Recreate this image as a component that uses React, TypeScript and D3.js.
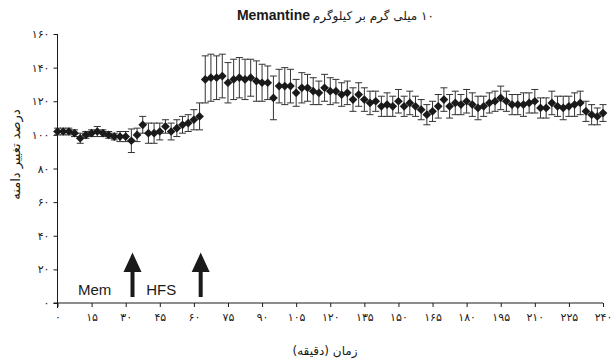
import React, { useEffect, useRef } from "react";
import * as d3 from "d3";

// minutes
const times = [
  0, 2.5, 5, 7.5, 10, 12.5, 15, 17.5, 20, 22.5, 25, 27.5, 30,
  32.5, 35, 37.5, 40, 42.5, 45, 47.5, 50, 52.5, 55, 57.5, 60, 62.5,
  65, 67.5, 70, 72.5, 75, 77.5, 80, 82.5, 85, 87.5, 90, 92.5, 95, 97.5,
  100, 102.5, 105, 107.5, 110, 112.5, 115, 117.5, 120, 122.5, 125, 127.5,
  130, 132.5, 135, 137.5, 140, 142.5, 145, 147.5, 150, 152.5, 155, 157.5,
  160, 162.5, 165, 167.5, 170, 172.5, 175, 177.5, 180, 182.5, 185, 187.5,
  190, 192.5, 195, 197.5, 200, 202.5, 205, 207.5, 210, 212.5, 215, 217.5,
  220, 222.5, 225, 227.5, 230, 232.5, 235, 237.5, 240,
];

// % change of amplitude
const values = [
  102, 102, 102, 101, 98, 100, 101, 102, 101, 100, 99, 99, 99,
  96.5, 100, 106, 101, 101, 102, 105, 102, 104, 106, 107, 109, 111,
  133, 134, 134, 135, 131, 133, 134, 133, 134, 132, 131, 131, 122, 129,
  129, 129, 125, 128, 128, 126, 125, 128, 126, 126, 124, 125,
  121, 124, 121, 119, 120, 117, 118, 117, 120, 117, 119, 117,
  115, 112, 114, 117, 121, 117, 119, 118, 120, 118, 116, 117,
  119, 120, 122, 120, 118, 118, 118, 119, 120, 116, 116, 119,
  117, 116, 117, 118, 119, 114, 112, 111, 113,
];

const errors = [
  2, 2, 2, 2, 3, 2, 2, 3, 2, 2, 2, 3, 3,
  7, 4, 5, 6, 6, 5, 4, 5, 5, 5, 5, 6, 8,
  14, 14, 13, 13, 12, 12, 12, 12, 11, 12, 11, 10, 13, 10,
  11, 10, 8, 9, 8, 8, 7, 8, 8, 7, 7, 7,
  7, 7, 7, 7, 6, 6, 7, 6, 7, 6, 7, 6,
  6, 6, 6, 7, 7, 7, 7, 6, 7, 7, 7, 6,
  6, 6, 7, 6, 6, 6, 7, 6, 7, 6, 6, 7,
  6, 7, 6, 7, 7, 6, 6, 5, 5,
];

const xTicks = [0, 15, 30, 45, 60, 75, 90, 105, 120, 135, 150, 165, 180, 195, 210, 225, 240];
const yTicks = [0, 20, 40, 60, 80, 100, 120, 140, 160];

// events: drug injection and HFS
const arrowTimes = [33, 63];
const eventLabels = [
  { text: "Mem", t: 9 },
  { text: "HFS", t: 39 },
];

const faDigits = (n: number) =>
  String(n).replace(/\d/g, (d) => "۰۱۲۳۴۵۶۷۸۹"[+d]);

const App: React.FC = () => {
  const svgRef = useRef<SVGSVGElement | null>(null);
  const width = 611;
  const height = 360;

  useEffect(() => {
    const svg = d3.select(svgRef.current);
    svg.selectAll("*").remove();

    const x = d3.scaleLinear().domain([0, 240]).range([57.5, 603]);
    const y = d3.scaleLinear().domain([0, 160]).range([303, 34]);
    const ink = "#1a1a1a";
    const faFont = "'DejaVu Sans', 'Noto Sans', sans-serif";

    // title
    svg
      .append("text")
      .attr("x", 310)
      .attr("y", 20)
      .attr("text-anchor", "end")
      .attr("font-family", "'Liberation Sans', Arial, sans-serif")
      .attr("font-weight", "bold")
      .attr("font-size", 14)
      .attr("fill", ink)
      .text("Memantine");
    svg
      .append("text")
      .attr("x", 434)
      .attr("y", 20)
      .attr("direction", "rtl")
      .attr("text-anchor", "start")
      .attr("font-family", faFont)
      .attr("font-size", 12)
      .attr("fill", ink)
      .text("۱۰ میلی گرم بر کیلوگرم");

    // y axis
    const yAxis = d3
      .axisLeft(y)
      .tickValues(yTicks)
      .tickSize(4)
      .tickPadding(4)
      .tickFormat((d) => faDigits(d as number));
    const gy = svg.append("g").attr("transform", `translate(${x(0)},0)`).call(yAxis);
    gy.select(".domain").attr("d", `M0,${y(160)}V${y(0) + 5}`);
    gy.selectAll("line").attr("stroke", ink);
    gy.selectAll(".domain").attr("stroke", ink);
    gy.selectAll("text").attr("font-family", faFont).attr("font-size", 11).attr("fill", ink);

    // x axis
    const xAxis = d3
      .axisBottom(x)
      .tickValues(xTicks)
      .tickSize(4)
      .tickPadding(6)
      .tickFormat((d) => faDigits(d as number));
    const gx = svg.append("g").attr("transform", `translate(0,${y(0)})`).call(xAxis);
    gx.select(".domain").attr("d", `M${x(0) - 4},0H${x(240)}`);
    gx.selectAll("line").attr("stroke", ink);
    gx.selectAll(".domain").attr("stroke", ink);
    gx.selectAll("text").attr("font-family", faFont).attr("font-size", 11).attr("fill", ink);

    // axis titles
    svg
      .append("text")
      .attr("transform", `translate(20,${(y(160) + y(0)) / 2 - 14}) rotate(-90)`)
      .attr("direction", "rtl")
      .attr("text-anchor", "middle")
      .attr("font-family", faFont)
      .attr("font-size", 13)
      .attr("fill", ink)
      .text("درصد تغییر دامنه");
    svg
      .append("text")
      .attr("x", 325)
      .attr("y", 355)
      .attr("direction", "rtl")
      .attr("text-anchor", "middle")
      .attr("font-family", faFont)
      .attr("font-size", 12)
      .attr("fill", ink)
      .text("زمان (دقیقه)");

    const data = times.map((t, i) => ({ t, v: values[i], e: errors[i] }));

    // error bars
    const eb = svg.append("g").attr("stroke", "#333").attr("stroke-width", 1);
    const cap = 3.5;
    data.forEach((d) => {
      const cx = x(d.t);
      eb.append("line").attr("x1", cx).attr("x2", cx).attr("y1", y(d.v - d.e)).attr("y2", y(d.v + d.e));
      eb.append("line").attr("x1", cx - cap).attr("x2", cx + cap).attr("y1", y(d.v + d.e)).attr("y2", y(d.v + d.e));
      eb.append("line").attr("x1", cx - cap).attr("x2", cx + cap).attr("y1", y(d.v - d.e)).attr("y2", y(d.v - d.e));
    });

    // diamonds
    const diamond = d3.symbol().type(d3.symbolSquare).size(38);
    svg
      .append("g")
      .selectAll("path")
      .data(data)
      .enter()
      .append("path")
      .attr("d", diamond)
      .attr("transform", (d) => `translate(${x(d.t)},${y(d.v)}) rotate(45)`)
      .attr("fill", ink);

    // arrows
    arrowTimes.forEach((t) => {
      const ax = x(t);
      const top = y(30);
      const base = y(18.5);
      const bottom = y(3.5);
      svg
        .append("path")
        .attr(
          "d",
          `M${ax - 2},${bottom}V${base}H${ax - 9}L${ax},${top}L${ax + 9},${base}H${ax + 2}V${bottom}Z`
        )
        .attr("fill", ink);
    });

    eventLabels.forEach((l) => {
      svg
        .append("text")
        .attr("x", x(l.t))
        .attr("y", y(4.8))
        .attr("font-family", "'Liberation Sans', Arial, sans-serif")
        .attr("font-size", 15)
        .attr("fill", ink)
        .text(l.text);
    });
  }, []);

  return (
    <svg
      ref={svgRef}
      width={width}
      height={height}
      style={{ position: "absolute", left: 0, top: 0, background: "#fff" }}
    ></svg>
  );
};

export default App;
